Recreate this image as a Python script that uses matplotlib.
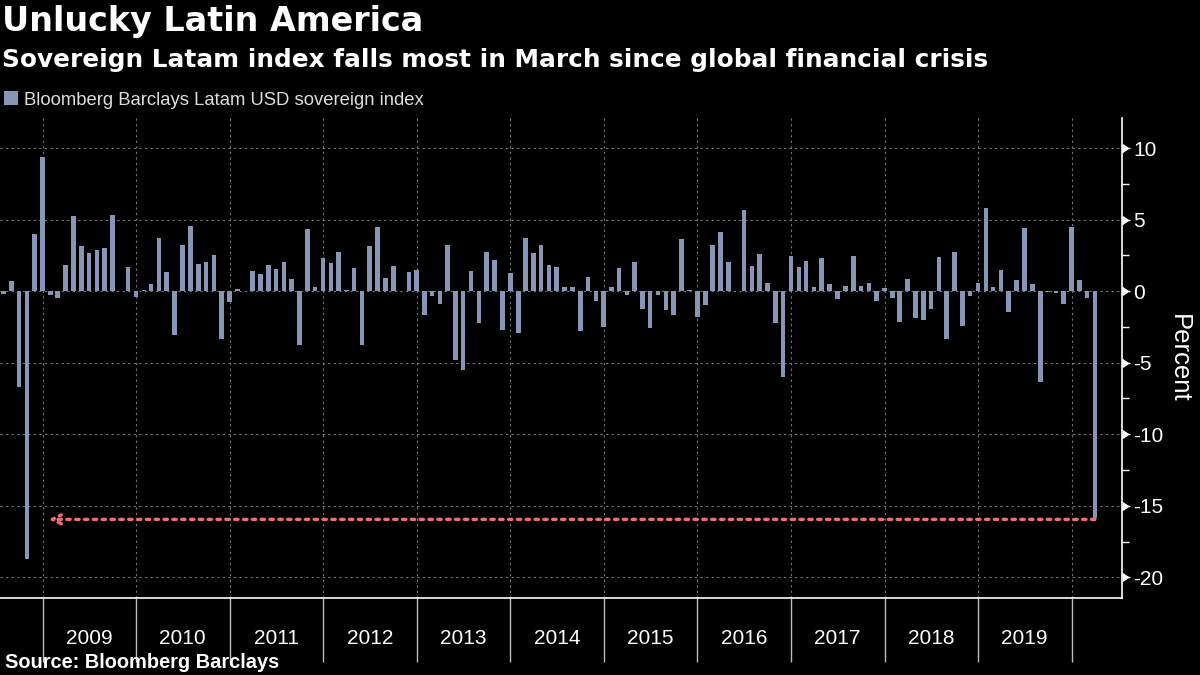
import matplotlib
matplotlib.use("Agg")
import matplotlib.pyplot as plt
import matplotlib.dates as mdates
from matplotlib.transforms import blended_transform_factory
import pandas as pd

plt.rcParams['font.family'] = ['Liberation Sans', 'DejaVu Sans']
plt.rcParams['axes.unicode_minus'] = False

title = "Unlucky Latin America"
subtitle = "Sovereign Latam index falls most in March since global financial crisis"
series_name = "Bloomberg Barclays Latam USD sovereign index"
source = "Source: Bloomberg Barclays"

# monthly returns (%), first month is July 2008
first_month = "2008-07"
r2008 = [-0.2, 0.7, -6.7, -18.7, 4.0, 9.4]
r2009 = [-0.23, -0.5, 1.84, 5.27, 3.17, 2.68, 2.89, 3.03, 5.34, 0.02, 1.7, -0.37]
r2010 = [0.1, 0.51, 3.73, 1.35, -3.05, 3.24, 4.57, 1.91, 2.05, 2.54, -3.31, -0.72]
r2011 = [0.14, 0.02, 1.42, 1.21, 1.84, 1.56, 2.05, 0.86, -3.75, 4.36, 0.3, 2.33]
r2012 = [1.98, 2.75, 0.05, 1.63, -3.75, 3.17, 4.5, 0.93, 1.77, 0.02, 1.35, 1.49]
r2013 = [-1.63, -0.3, -0.86, 3.24, -4.78, -5.48, 1.42, -2.19, 2.75, 2.19, -2.68, 1.28]
r2014 = [-2.89, 3.73, 2.68, 3.24, 1.84, 1.7, 0.3, 0.3, -2.75, 1.0, -0.65, -2.47]
r2015 = [0.3, 1.63, -0.23, 2.05, -1.21, -2.54, -0.23, -1.28, -1.63, 3.66, 0.07, -1.77]
r2016 = [-0.93, 3.24, 4.15, 2.05, 0.02, 5.69, 1.77, 2.61, 0.58, -2.19, -5.97, 2.47]
r2017 = [1.7, 2.12, 0.3, 2.33, 0.51, -0.51, 0.37, 2.47, 0.37, 0.58, -0.65, 0.23]
r2018 = [-0.44, -2.12, 0.86, -1.86, -2.0, -1.21, 2.4, -3.31, 2.75, -2.4, -0.3, 0.58]
r2019 = [5.83, 0.3, 1.49, -1.42, 0.79, 4.43, 0.51, -6.37, -0.05, -0.1, -0.86, 4.5]
r2020 = [0.79, -0.44, -15.87]

year_labels = ['2009', '2010', '2011', '2012', '2013', '2014',
               '2015', '2016', '2017', '2018', '2019']
year_edges = ['2009', '2010', '2011', '2012', '2013', '2014',
              '2015', '2016', '2017', '2018', '2019', '2020']
y_ticks = [10, 5, 0, -5, -10, -15, -20]
arrow_tip = "2009-01-25"


def main():
    values = (r2008 + r2009 + r2010 + r2011 + r2012 + r2013 + r2014
              + r2015 + r2016 + r2017 + r2018 + r2019 + r2020)
    months = pd.period_range(first_month, periods=len(values), freq='M')
    months = months.to_timestamp(how='end')

    fig = plt.figure(figsize=(12, 6.75), dpi=100, facecolor='black')
    ax = fig.add_axes([0.0, 0.114, 0.935, 0.711], facecolor='black')

    bars = ax.bar(months, values, width=18, color='#8796b5',
                  label=series_name, zorder=3)

    ax.set_xlim(pd.Timestamp('2008-07-19'), pd.Timestamp('2020-07-16'))
    ax.set_ylim(-21.45, 12.1)

    # y axis on the right
    ax.yaxis.tick_right()
    ax.set_yticks(y_ticks)
    ax.set_yticks([7.5, 2.5, -2.5, -7.5, -12.5, -17.5], minor=True)
    ax.tick_params(axis='y', which='major', colors='white', labelsize=15,
                   length=6, width=1, pad=2)
    ax.tick_params(axis='y', which='minor', colors='white', length=5,
                   width=1)
    ax.yaxis.set_label_position('right')
    ax.set_ylabel("Percent", color='white', fontsize=18.5, rotation=270,
                  labelpad=20)
    trans = blended_transform_factory(ax.transAxes, ax.transData)
    ax.plot([1.0] * len(y_ticks), y_ticks, linestyle='none', marker=9,
            markersize=6, color='white', transform=trans, clip_on=False,
            zorder=5)

    # x axis: year boundaries as ticks, labels centred in each year
    edges = [pd.Timestamp(y + '-01-01') for y in year_edges]
    mids = [pd.Timestamp(y + '-07-02') for y in year_labels]
    ax.set_xticks(edges)
    ax.set_xticklabels([])
    ax.set_xticks(mids, minor=True)
    ax.set_xticklabels(year_labels, minor=True)
    ax.tick_params(axis='x', which='major', colors='#bbbbbb', length=46,
                   width=1, direction='out')
    ax.tick_params(axis='x', which='minor', length=0, labelsize=15,
                   labelcolor='white', pad=22)

    ax.grid(True, which='major', color='#777777', linestyle=(0, (2, 3)),
            linewidth=0.8, zorder=0)

    for side in ['left', 'top']:
        ax.spines[side].set_visible(False)
    for side in ['right', 'bottom']:
        ax.spines[side].set_color('white')
        ax.spines[side].set_linewidth(1.2)

    # arrow from the March 2020 drop back to 2008
    y_arrow = -15.95
    ax.annotate('', xy=(mdates.date2num(pd.Timestamp(arrow_tip)), y_arrow),
                xytext=(mdates.date2num(months[-1]), y_arrow),
                arrowprops=dict(arrowstyle='->', linestyle=':',
                                color='#e8707a', lw=2.4, shrinkA=0,
                                shrinkB=0, mutation_scale=16),
                zorder=4)

    fig.text(0.002, 1 - 22 / 675, title, color='white', fontsize=24,
             fontweight='bold', va='center', ha='left',
             family='DejaVu Sans')
    fig.text(0.002, 1 - 60 / 675, subtitle, color='white', fontsize=17.8,
             fontweight='bold', va='center', ha='left',
             family='DejaVu Sans')
    leg = ax.legend(handles=[bars], loc='center left',
                    bbox_to_anchor=(0.0, 1 - 100 / 675),
                    bbox_transform=fig.transFigure, frameon=False,
                    fontsize=13.3, handlelength=0.8, handleheight=0.8,
                    handletextpad=0.3, borderaxespad=0, borderpad=0.2)
    for t in leg.get_texts():
        t.set_color('#dddddd')
    fig.text(0.004, 1 - 663 / 675, source, color='white', fontsize=14.4,
             fontweight='bold', va='center', ha='left')

    fig.savefig("out.png", dpi=100, facecolor='black')


if __name__ == "__main__":
    main()
